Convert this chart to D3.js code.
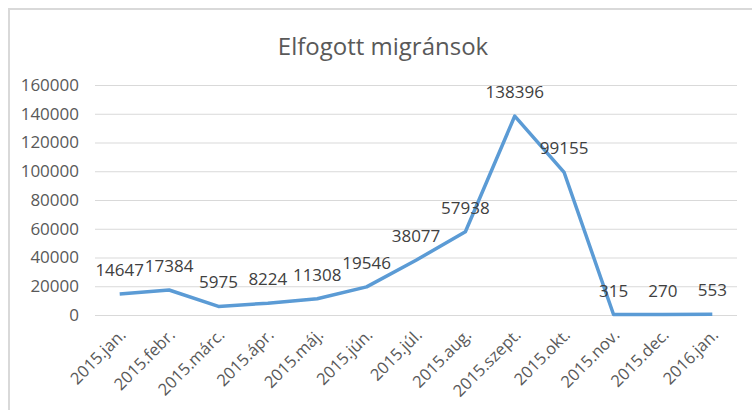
<!DOCTYPE html>
<html>
<head>
<meta charset="utf-8">
<script src="https://cdn.jsdelivr.net/npm/d3@7.9.0/dist/d3.min.js"></script>
<style>
  body { margin: 0; background: #fff; }
  text { font-family: "Open Sans", "Noto Sans", sans-serif; }
</style>
</head>
<body>
<div id="chart"></div>
<script>
const months = ['2015.jan.', '2015.febr.', '2015.márc.', '2015.ápr.', '2015.máj.', '2015.jún.',
  '2015.júl.', '2015.aug.', '2015.szept.', '2015.okt.', '2015.nov.', '2015.dec.', '2016.jan.'];
const migrants = [14647, 17384, 5975, 8224, 11308, 19546, 38077, 57938, 138396, 99155, 315, 270, 553];
const yTicks = [0, 20000, 40000, 60000, 80000, 100000, 120000, 140000, 160000];
const title = 'Elfogott migránsok';

const width = 752;
const height = 410;
const margin = { top: 85, right: 15, bottom: 95, left: 95 };

const svg = d3.select('#chart')
  .append('svg')
  .attr('width', width)
  .attr('height', height);

// chart frame
svg.append('rect')
  .attr('x', 9).attr('y', 9)
  .attr('width', 800).attr('height', 500)
  .attr('fill', '#fff')
  .attr('stroke', '#d9d9d9')
  .attr('stroke-width', 2);

const x = d3.scalePoint()
  .domain(months)
  .range([margin.left, width - margin.right])
  .padding(0.5);

const y = d3.scaleLinear()
  .domain([0, 160000])
  .range([height - margin.bottom, margin.top]);

// gridlines + y labels
const yAxis = svg.append('g')
  .attr('transform', `translate(${margin.left},0)`)
  .call(d3.axisLeft(y).tickValues(yTicks).tickSize(-(width - margin.left - margin.right)).tickPadding(16).tickFormat(d3.format('d')));
yAxis.select('.domain').remove();
yAxis.selectAll('line').attr('stroke', '#d9d9d9').attr('stroke-width', 1);
yAxis.selectAll('text')
  .attr('fill', '#595959')
  .style('font-size', '17px')
  .style('font-family', '"Open Sans", sans-serif');

// x labels
svg.append('g')
  .selectAll('text')
  .data(months)
  .join('text')
  .attr('transform', d => `translate(${x(d) + 7},${height - margin.bottom + 21}) rotate(-45)`)
  .attr('text-anchor', 'end')
  .attr('fill', '#595959')
  .style('font-size', '16.5px')
  .text(d => d);

// line
const line = d3.line()
  .x((d, i) => x(months[i]))
  .y(d => y(d));

svg.append('path')
  .datum(migrants)
  .attr('fill', 'none')
  .attr('stroke', '#5b9bd5')
  .attr('stroke-width', 3.5)
  .attr('stroke-linejoin', 'round')
  .attr('d', line);

// data labels
svg.append('g')
  .selectAll('text')
  .data(migrants)
  .join('text')
  .attr('x', (d, i) => x(months[i]))
  .attr('y', d => y(d) - 18)
  .attr('text-anchor', 'middle')
  .attr('fill', '#404040')
  .style('font-size', '17px')
  .text(d => d);

svg.append('text')
  .attr('x', 383)
  .attr('y', 55)
  .attr('text-anchor', 'middle')
  .attr('fill', '#595959')
  .style('font-size', '24px')
  .text(title);
</script>
</body>
</html>
